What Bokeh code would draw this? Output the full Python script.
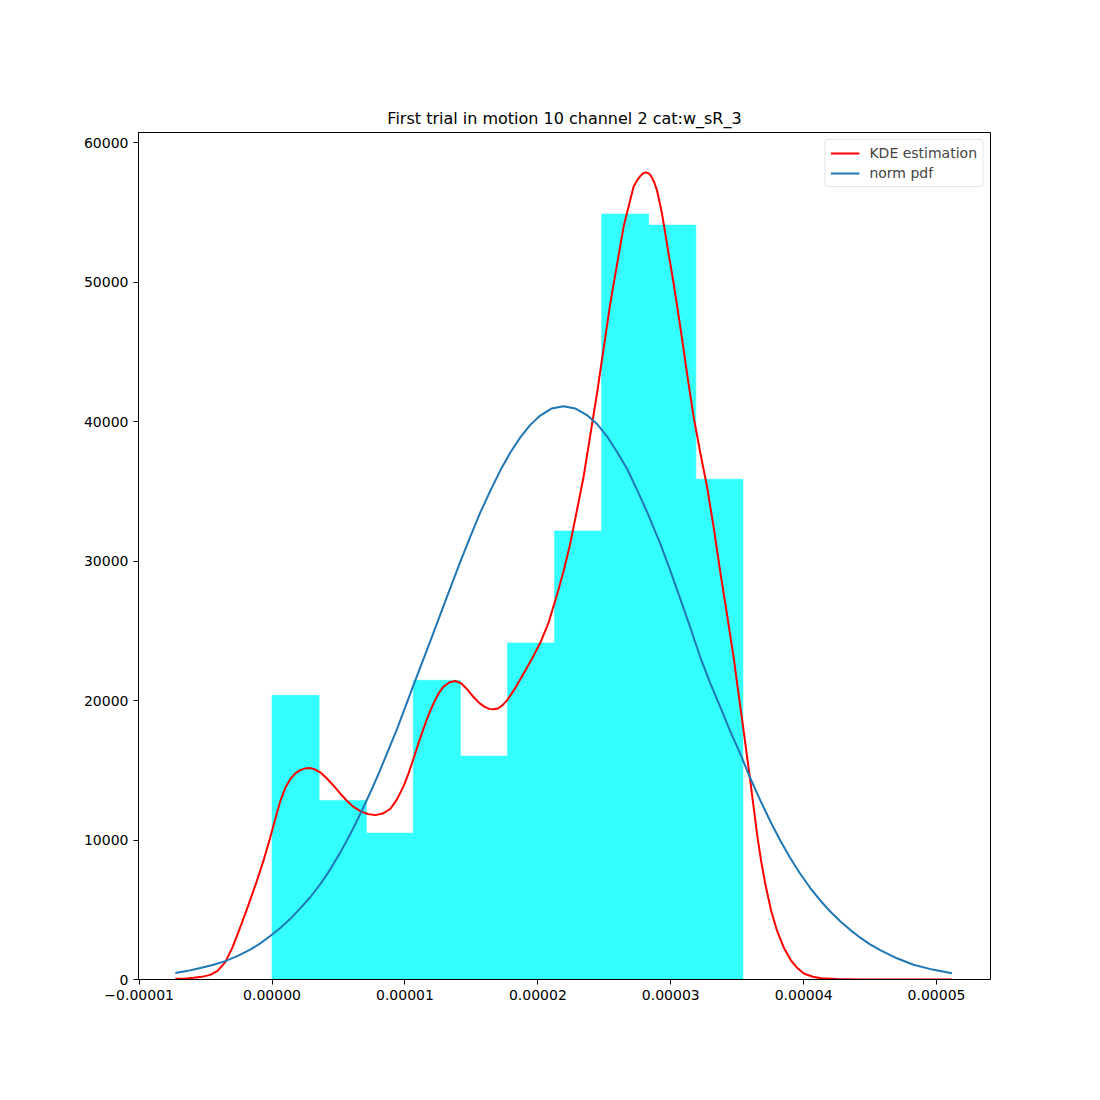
from bokeh.plotting import figure
from bokeh.models import Range1d, FixedTicker, Legend, LegendItem
from bokeh.embed import file_html
from bokeh.resources import INLINE

TITLE = "First trial in motion 10 channel 2 cat:w_sR_3"

# histogram (density)
bin_edges = [0.0, 0.354e-5, 0.709e-5, 1.063e-5, 1.417e-5, 1.772e-5,
             2.126e-5, 2.480e-5, 2.834e-5, 3.189e-5, 3.543e-5]
hist_vals = [20380, 12845, 10499, 21456, 16024, 24133, 32170, 54896, 54107, 35880]

# KDE estimation curve, x in units of 1e-5
kde_x_e5 = [-0.728, -0.650, -0.590, -0.530, -0.465, -0.410, -0.352, -0.300, -0.239, -0.189,
            -0.139, -0.101, -0.064, -0.014, 0.025, 0.062, 0.100, 0.137, 0.175, 0.212,
            0.250, 0.282, 0.320, 0.363, 0.413, 0.463, 0.514, 0.564, 0.614, 0.664,
            0.720, 0.777, 0.833, 0.889, 0.940, 0.990, 1.027, 1.065, 1.102, 1.140,
            1.178, 1.215, 1.252, 1.290, 1.335, 1.379, 1.423, 1.467, 1.516, 1.560,
            1.600, 1.635, 1.667, 1.700, 1.735, 1.768, 1.830, 1.892, 1.955, 2.018,
            2.081, 2.144, 2.194, 2.244, 2.344, 2.445, 2.545, 2.645, 2.720, 2.745,
            2.770, 2.793, 2.816, 2.837, 2.857, 2.877, 2.896, 2.933, 2.971, 3.022,
            3.072, 3.122, 3.172, 3.222, 3.272, 3.322, 3.373, 3.423, 3.473, 3.510,
            3.548, 3.598, 3.649, 3.680, 3.711, 3.755, 3.799, 3.850, 3.905, 3.950,
            4.005, 4.070, 4.132, 4.250, 4.426, 4.800, 5.116]
kde_y = [50, 80, 122, 190, 330, 620, 1250, 2250, 3753, 5050,
         6387, 7450, 8540, 10168, 11550, 12800, 13750, 14366, 14780, 15020,
         15140, 15170, 15080, 14862, 14420, 13900, 13330, 12800, 12380, 12080,
         11870, 11790, 11900, 12230, 12920, 13871, 14780, 15852, 16950, 18000,
         18980, 19806, 20500, 21000, 21320, 21413, 21250, 20820, 20258, 19820,
         19550, 19410, 19376, 19440, 19680, 20022, 20900, 21938, 22980, 24150,
         25600, 27600, 29300, 31266, 36046, 42031, 48489, 53986, 56857, 57290,
         57622, 57826, 57890, 57800, 57552, 57146, 56620, 55000, 52795, 49900,
         46810, 43500, 40351, 37800, 35400, 32500, 29200, 26200, 23100, 20500,
         17870, 14282, 10456, 8500, 6868, 4950, 3516, 2300, 1363, 850,
         409, 200, 93, 30, 5, 0, 0]

# norm pdf curve, x in units of 1e-5
norm_x_e5 = [-0.728, -0.634, -0.540, -0.446, -0.352, -0.258, -0.164, -0.089, -0.014, 0.062,
             0.137, 0.212, 0.287, 0.363, 0.438, 0.513, 0.588, 0.639, 0.689, 0.752,
             0.814, 0.940, 1.065, 1.190, 1.316, 1.416, 1.491, 1.567, 1.642, 1.717,
             1.793, 1.868, 1.943, 2.018, 2.105, 2.193, 2.281, 2.369, 2.445, 2.520,
             2.595, 2.670, 2.745, 2.821, 2.921, 2.996, 3.072, 3.147, 3.222, 3.297,
             3.373, 3.448, 3.523, 3.598, 3.674, 3.749, 3.824, 3.899, 3.974, 4.050,
             4.125, 4.200, 4.275, 4.350, 4.426, 4.500, 4.576, 4.702, 4.827, 4.970,
             5.116]
norm_y = [460, 620, 820, 1040, 1320, 1690, 2140, 2590, 3122, 3690,
          4352, 5100, 5900, 6840, 7900, 9100, 10420, 11380, 12370, 13680,
          15040, 17960, 21130, 24250, 27450, 29950, 31750, 33500, 35050, 36500,
          37800, 38880, 39780, 40450, 40960, 41118, 40960, 40480, 39850, 38960,
          37850, 36650, 35150, 33550, 31266, 29350, 27300, 25250, 23128, 21250,
          19540, 17800, 16196, 14450, 12845, 11350, 9975, 8720, 7585, 6560,
          5669, 4880, 4180, 3560, 3000, 2520, 2100, 1520, 1060, 710,
          452]

x_ticks = [-0.00001, 0.0, 0.00001, 0.00002, 0.00003, 0.00004, 0.00005]
x_tick_labels = ["\u22120.00001", "0.00000", "0.00001", "0.00002", "0.00003", "0.00004", "0.00005"]
y_ticks = [0, 10000, 20000, 30000, 40000, 50000, 60000]
y_tick_labels = ["0", "10000", "20000", "30000", "40000", "50000", "60000"]

kde_x = [v * 1e-5 for v in kde_x_e5]
norm_x = [v * 1e-5 for v in norm_x_e5]

FONT = "DejaVu Sans"

p = figure(width=1092, height=1092, output_backend="svg", toolbar_location=None,
           x_range=Range1d(-1.005e-5, 5.406e-5), y_range=Range1d(0, 60750),
           min_border_left=138, min_border_right=102, min_border_top=132, min_border_bottom=113,
           title=TITLE)

p.title.align = "center"
p.title.text_font = FONT
p.title.text_font_style = "normal"
p.title.text_font_size = "16px"
p.title.text_color = "black"

p.xgrid.visible = False
p.ygrid.visible = False
p.outline_line_color = "black"
p.outline_line_width = 1
p.outline_line_alpha = 1
p.background_fill_color = "white"
p.border_fill_color = "white"

p.quad(left=bin_edges[:-1], right=bin_edges[1:], bottom=0, top=hist_vals,
       fill_color="#33ffff", fill_alpha=1.0, line_color="#33ffff", line_width=0.6)
r_kde = p.line(kde_x, kde_y, line_color="#ff0000", line_width=2, line_join="round")
r_norm = p.line(norm_x, norm_y, line_color="#1f77b4", line_width=2, line_join="round")

for ax, ticks, labels in ((p.xaxis[0], x_ticks, x_tick_labels), (p.yaxis[0], y_ticks, y_tick_labels)):
    ax.ticker = FixedTicker(ticks=ticks)
    ax.major_label_overrides = dict(zip(ticks, labels))
    ax.major_label_text_font = FONT
    ax.major_label_text_font_size = "14px"
    ax.major_label_text_color = "black"
    ax.major_tick_out = 5
    ax.major_tick_in = 0
    ax.minor_tick_out = 0
    ax.minor_tick_in = 0
    ax.axis_line_color = "black"
    ax.major_tick_line_color = "black"
    ax.major_label_standoff = 5

legend = Legend(items=[LegendItem(label="KDE estimation", renderers=[r_kde]),
                       LegendItem(label="norm pdf", renderers=[r_norm])],
                location="top_right")
legend.margin = 7
legend.padding = 5
legend.spacing = 4
legend.glyph_width = 29
legend.glyph_height = 16
legend.label_height = 16
legend.label_standoff = 10
legend.label_text_font = FONT
legend.label_text_font_size = "14px"
legend.border_line_color = "#cccccc"
legend.border_line_width = 1
legend.background_fill_alpha = 0.8
legend.border_radius = 3
p.add_layout(legend)

open("out.html", "w").write(file_html(p, INLINE))
